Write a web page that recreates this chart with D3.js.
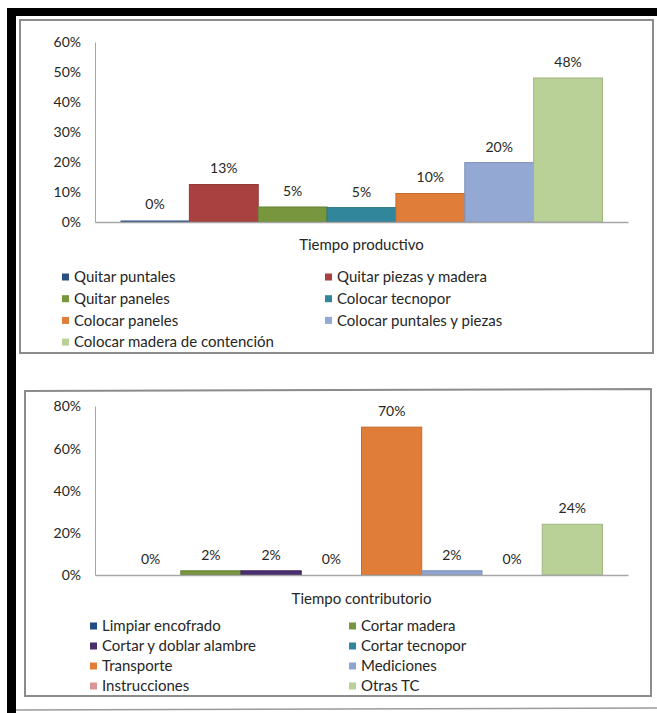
<!DOCTYPE html>
<html><head><meta charset="utf-8">
<script src="https://cdn.jsdelivr.net/npm/d3@7"></script>
<style>
html,body{margin:0;padding:0;background:#fff;}
svg text{font-family:Lato,"Liberation Sans Narrow","Open Sans",sans-serif;fill:#262626;}
</style></head>
<body>
<svg id="c" width="657" height="713"></svg>
<script>
// ---- Chart 1 data: Tiempo productivo ----
const prodCategory = "Tiempo productivo";
const prodSeries = ["Quitar puntales","Quitar piezas y madera","Quitar paneles","Colocar tecnopor","Colocar paneles","Colocar puntales y piezas","Colocar madera de contención"];
const prodValues = [0.005, 0.125, 0.05, 0.048, 0.095, 0.198, 0.48];
const prodLabels = ["0%","13%","5%","5%","10%","20%","48%"];
const prodColors = ["#2A4F82","#A8413F","#77963D","#31869C","#E07D38","#93A8D2","#B9D096"];
const prodTicks = [0,0.1,0.2,0.3,0.4,0.5,0.6];

// ---- Chart 2 data: Tiempo contributorio ----
const contCategory = "Tiempo contributorio";
const contSeries = ["Limpiar encofrado","Cortar madera","Cortar y doblar alambre","Cortar tecnopor","Transporte","Mediciones","Instrucciones","Otras TC"];
const contValues = [0, 0.02, 0.02, 0, 0.70, 0.02, 0, 0.24];
const contLabels = ["0%","2%","2%","0%","70%","2%","0%","24%"];
const contColors = ["#1F4E82","#77963D","#4B2E70","#31869C","#E07D38","#8EA5D0","#D99694","#B9D096"];
const contTicks = [0,0.2,0.4,0.6,0.8];

const svg = d3.select("#c");
svg.append("rect").attr("width",657).attr("height",713).attr("fill","#fff");

// frame decorations
svg.append("rect").attr("x",7).attr("y",8).attr("width",650).attr("height",8).attr("fill","#000");
svg.append("rect").attr("x",7).attr("y",8).attr("width",9).attr("height",705).attr("fill","#000");
svg.append("line").attr("x1",16).attr("y1",710).attr("x2",657).attr("y2",708).attr("stroke","#9a9a9a").attr("stroke-width",1.5);

function drawChart(cfg){
  const g = svg.append("g");
  // outer box
  g.append("path").attr("d",cfg.box).attr("fill","none").attr("stroke","#8c8c8c").attr("stroke-width",2);

  const y = d3.scaleLinear().domain([0,cfg.max]).range([cfg.y0,cfg.y1]);
  const x0 = d3.scaleBand().domain([cfg.category]).range([95,628]).paddingOuter(0.053).paddingInner(0);
  const x1 = d3.scaleBand().domain(cfg.series).range([0,x0.bandwidth()]).padding(0);

  // y axis
  const ya = d3.axisLeft(y).tickValues(cfg.ticks).tickFormat(d3.format(".0%")).tickSize(0).tickPadding(14);
  const yg = g.append("g").attr("transform","translate(95,0)").call(ya);
  yg.select(".domain").attr("stroke","#a6a6a6").attr("stroke-width",1);
  yg.selectAll("text").attr("font-size",14).attr("fill","#262626").attr("dy","0.35em");

  // bars
  const bg = g.append("g").attr("transform",`translate(${x0(cfg.category)},0)`);
  bg.selectAll("rect").data(cfg.values).join("rect")
    .attr("x",(d,i)=>x1(cfg.series[i]))
    .attr("width",x1.bandwidth())
    .attr("y",d=>y(d))
    .attr("height",d=>y(0)-y(d))
    .attr("fill",(d,i)=>cfg.colors[i])
    .attr("stroke",(d,i)=>d>0.01?d3.color(cfg.colors[i]).darker(0.4):"none")
    .attr("stroke-width",1);

  // baseline (x axis)
  const xa = d3.axisBottom(x0).tickSize(0).tickPadding(14);
  const xg = g.append("g").attr("transform",`translate(0,${y(0)})`).call(xa);
  xg.select(".domain").attr("stroke","#a6a6a6").attr("stroke-width",1.5);
  xg.selectAll("text").attr("font-size",15).attr("fill","#1a1a1a").attr("dy",cfg.titleDy);

  // data labels
  bg.selectAll("text.lbl").data(cfg.values).join("text").attr("class","lbl")
    .attr("x",(d,i)=>x1(cfg.series[i])+x1.bandwidth()/2)
    .attr("y",d=>y(d)-16)
    .attr("text-anchor","middle").attr("dy","0.35em")
    .attr("font-size",14)
    .text((d,i)=>cfg.labels[i]);

  // legend
  const lg = g.append("g");
  cfg.series.forEach((s,i)=>{
    const col = i%2, row = Math.floor(i/2);
    const lx = cfg.legX[col], ly = cfg.legY0 + row*cfg.legDy;
    lg.append("rect").attr("x",lx).attr("y",ly-3.5).attr("width",7).attr("height",7).attr("fill",cfg.colors[i]);
    lg.append("text").attr("x",lx+12).attr("y",ly).attr("dy","0.35em").attr("font-size",15).text(s);
  });
}

drawChart({
  category: prodCategory, series: prodSeries, values: prodValues, labels: prodLabels,
  colors: prodColors, ticks: prodTicks, max: 0.6, y0: 222, y1: 42,
  box: "M20,20 L653,20 L653,353 L20,353 Z", titleDy: "0.9em",
  legX: [62,325], legY0: 277, legDy: 21.7
});
drawChart({
  category: contCategory, series: contSeries, values: contValues, labels: contLabels,
  colors: contColors, ticks: contTicks, max: 0.8, y0: 575, y1: 406,
  box: "M25,391 L651,389 L651,696 L25,696 Z", titleDy: "1.0em",
  legX: [90,349], legY0: 626, legDy: 20
});
</script>
</body></html>
